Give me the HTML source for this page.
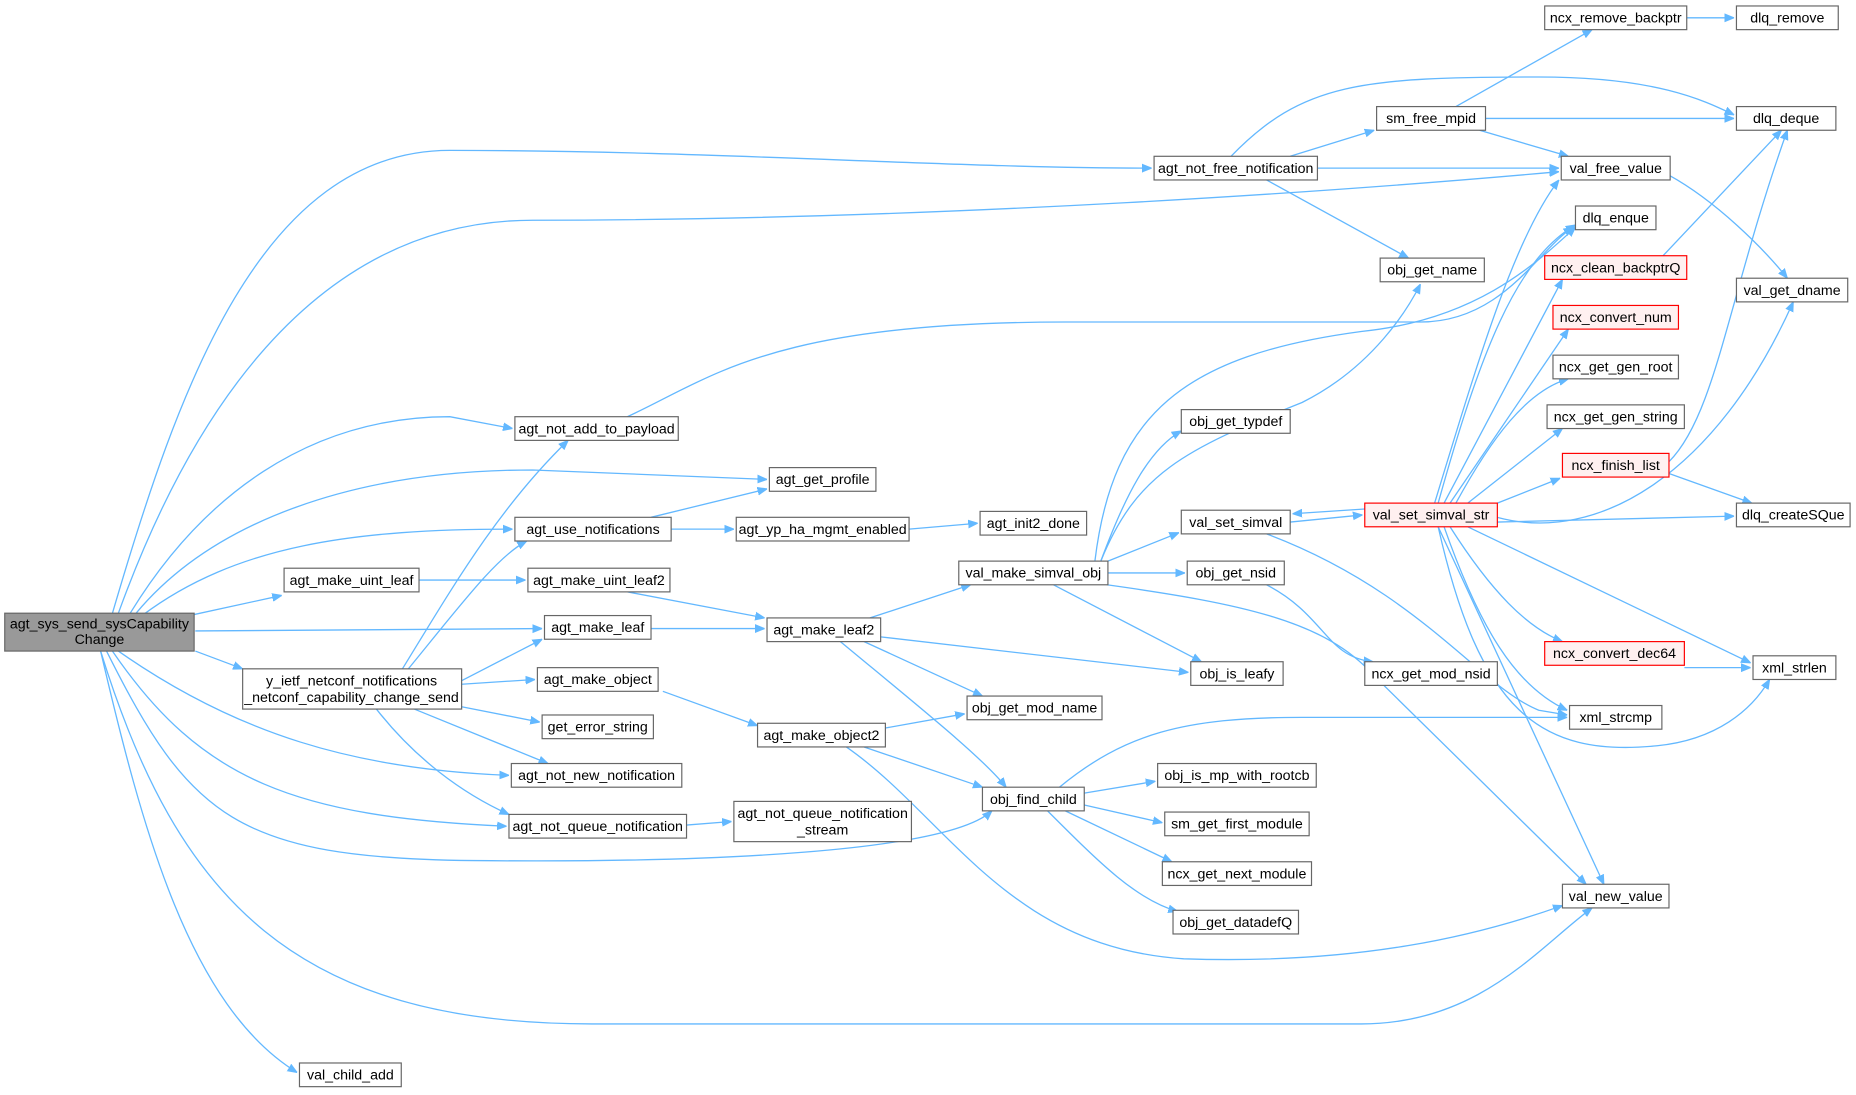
<!DOCTYPE html>
<html><head><meta charset="utf-8"><style>
html,body{margin:0;padding:0;background:#fff;width:1856px;height:1095px;overflow:hidden}
svg{display:block}
text{font-family:"Liberation Sans",Arial,sans-serif;font-size:12px;fill:#000}
.n{fill:#fff;stroke:#666;stroke-width:1}
.r{fill:#fff0f0;stroke:#f00;stroke-width:1}
.g{fill:#999;stroke:#666;stroke-width:1}
path{fill:none;stroke:#63b8ff;stroke-width:1.1}
</style></head><body>
<svg width="1856" height="1095" viewBox="0 0 1568 925" xmlns="http://www.w3.org/2000/svg">
<defs><marker id="a" viewBox="0 0 10 10" refX="10" refY="5" markerWidth="8" markerHeight="8" orient="auto" markerUnits="userSpaceOnUse"><path d="M0,1 L10,5 L0,9 z" style="fill:#63b8ff;stroke:#63b8ff"/></marker></defs>
<g marker-end="url(#a)">
<path d="M95,518 C150,330 220,127 380,127 C600,127 800,142 973,142"/>
<path d="M100,518 C150,380 250,186 450,186 C800,186 1150,160 1317,145"/>
<path d="M110,518 C170,420 260,352 380,352 L433,362"/>
<path d="M115,518 C180,440 300,397 450,397 L648,405"/>
<path d="M120,520 C200,460 300,447 433,447"/>
<path d="M160,520 L238,503"/>
<path d="M165,533 L458,531"/>
<path d="M165,550 L205,565"/>
<path d="M100,550 C200,620 300,650 430,655"/>
<path d="M95,550 C170,660 250,690 428,698"/>
<path d="M90,550 C160,690 200,725 400,727 C600,729 800,720 838,685"/>
<path d="M85,550 C150,760 250,865 500,865 L1150,865 C1250,865 1300,800 1345,767"/>
<path d="M85,550 C120,700 160,850 251,906"/>
<path d="M530,352 C600,320 650,272 900,272 L1200,272 C1270,272 1300,210 1329,192"/>
<path d="M550,437 L648,413"/>
<path d="M567,447 L620,447"/>
<path d="M768,447 L826,442"/>
<path d="M354,490 L444,490"/>
<path d="M530,500 L646,522"/>
<path d="M550,531 L646,531"/>
<path d="M340,565 C380,500 420,430 480,372"/>
<path d="M345,565 C390,510 420,470 445,457"/>
<path d="M390,575 L458,540"/>
<path d="M390,578 L452,574"/>
<path d="M390,597 L456,610"/>
<path d="M350,599 L463,645"/>
<path d="M318,599 C350,640 390,670 430,688"/>
<path d="M560,584 L640,613"/>
<path d="M580,697 L618,694"/>
<path d="M735,522 L820,494"/>
<path d="M744,538 L1004,568"/>
<path d="M730,542 L830,588"/>
<path d="M710,542 C780,600 830,640 850,665"/>
<path d="M748,615 L815,603"/>
<path d="M730,631 L830,665"/>
<path d="M715,631 C800,690 850,800 1000,810 C1150,815 1250,790 1320,765"/>
<path d="M930,474 C960,400 1000,380 1100,340 C1160,310 1190,260 1200,240"/>
<path d="M925,474 C940,350 1000,300 1150,280 C1250,270 1300,220 1331,192"/>
<path d="M930,474 C950,420 970,380 998,364"/>
<path d="M936,474 L996,450"/>
<path d="M936,484 L1001,484"/>
<path d="M890,494 L1015,559"/>
<path d="M935,494 C1050,510 1120,525 1160,570 L1340,747"/>
<path d="M1090,441 L1151,435"/>
<path d="M1153,430 L1092,434"/>
<path d="M1070,451 C1200,500 1250,580 1300,600 L1324,604"/>
<path d="M1070,494 C1120,520 1120,555 1160,559"/>
<path d="M895,665 C950,620 1000,606 1100,606 L1324,606"/>
<path d="M916,670 L976,660"/>
<path d="M916,680 L982,695"/>
<path d="M900,685 L990,728"/>
<path d="M885,685 C930,730 960,760 995,770"/>
<path d="M1040,132 C1100,70 1150,65 1300,65 C1400,65 1440,85 1465,97"/>
<path d="M1090,132 L1161,110"/>
<path d="M1113,142 L1317,142"/>
<path d="M1070,152 L1190,218"/>
<path d="M1230,90 L1345,25"/>
<path d="M1255,100 L1465,100"/>
<path d="M1250,110 L1325,132"/>
<path d="M1425,15 L1465,15"/>
<path d="M1410,148 C1450,170 1490,210 1510,235"/>
<path d="M1405,216 L1505,110"/>
<path d="M1410,390 C1450,350 1460,250 1510,110"/>
<path d="M1410,400 L1480,425"/>
<path d="M1423,564 L1479,564"/>
<path d="M1212,425 C1250,300 1280,200 1317,152"/>
<path d="M1215,425 C1250,300 1280,220 1331,190"/>
<path d="M1220,425 L1320,236"/>
<path d="M1225,425 L1325,278"/>
<path d="M1230,425 C1260,370 1290,330 1325,320"/>
<path d="M1240,425 L1320,362"/>
<path d="M1265,425 L1318,404"/>
<path d="M1265,437 C1350,460 1450,400 1515,255"/>
<path d="M1265,441 L1465,436"/>
<path d="M1240,445 L1479,560"/>
<path d="M1225,445 C1260,500 1290,530 1320,542"/>
<path d="M1220,445 C1250,530 1280,580 1324,600"/>
<path d="M1215,445 L1355,747"/>
<path d="M1215,445 C1250,600 1300,640 1400,630 C1450,625 1480,600 1495,574"/>
</g>
<rect class="g" x="4" y="518" width="160" height="32"/><text x="84" y="531" text-anchor="middle">agt_sys_send_sysCapability</text><text x="84" y="544" text-anchor="middle">Change</text>
<rect class="n" x="205" y="565" width="185" height="34"/><text x="297" y="579" text-anchor="middle">y_ietf_netconf_notifications</text><text x="297" y="593" text-anchor="middle">_netconf_capability_change_send</text>
<rect class="n" x="620" y="677" width="150" height="34"/><text x="695" y="691" text-anchor="middle">agt_not_queue_notification</text><text x="695" y="705" text-anchor="middle">_stream</text>
<g>
<rect class="n" x="1305" y="5" width="120" height="20"/><text x="1365" y="19" text-anchor="middle">ncx_remove_backptr</text>
<rect class="n" x="1467" y="5" width="86" height="20"/><text x="1510" y="19" text-anchor="middle">dlq_remove</text>
<rect class="n" x="1467" y="90" width="84" height="20"/><text x="1509" y="104" text-anchor="middle">dlq_deque</text>
<rect class="n" x="1163" y="90" width="92" height="20"/><text x="1209" y="104" text-anchor="middle">sm_free_mpid</text>
<rect class="n" x="975" y="132" width="138" height="20"/><text x="1044" y="146" text-anchor="middle">agt_not_free_notification</text>
<rect class="n" x="1319" y="132" width="92" height="20"/><text x="1365" y="146" text-anchor="middle">val_free_value</text>
<rect class="n" x="1331" y="174" width="68" height="20"/><text x="1365" y="188" text-anchor="middle">dlq_enque</text>
<rect class="n" x="1166" y="218" width="88" height="20"/><text x="1210" y="232" text-anchor="middle">obj_get_name</text>
<rect class="r" x="1305" y="216" width="120" height="20"/><text x="1365" y="230" text-anchor="middle">ncx_clean_backptrQ</text>
<rect class="n" x="1467" y="235" width="94" height="20"/><text x="1514" y="249" text-anchor="middle">val_get_dname</text>
<rect class="r" x="1312" y="258" width="106" height="20"/><text x="1365" y="272" text-anchor="middle">ncx_convert_num</text>
<rect class="n" x="1312" y="300" width="106" height="20"/><text x="1365" y="314" text-anchor="middle">ncx_get_gen_root</text>
<rect class="n" x="998" y="346" width="92" height="20"/><text x="1044" y="360" text-anchor="middle">obj_get_typdef</text>
<rect class="n" x="1307" y="342" width="116" height="20"/><text x="1365" y="356" text-anchor="middle">ncx_get_gen_string</text>
<rect class="n" x="435" y="352" width="138" height="20"/><text x="504" y="366" text-anchor="middle">agt_not_add_to_payload</text>
<rect class="r" x="1320" y="383" width="90" height="20"/><text x="1365" y="397" text-anchor="middle">ncx_finish_list</text>
<rect class="n" x="650" y="395" width="90" height="20"/><text x="695" y="409" text-anchor="middle">agt_get_profile</text>
<rect class="r" x="1153" y="425" width="112" height="20"/><text x="1209" y="439" text-anchor="middle">val_set_simval_str</text>
<rect class="n" x="1467" y="425" width="96" height="20"/><text x="1515" y="439" text-anchor="middle">dlq_createSQue</text>
<rect class="n" x="998" y="431" width="92" height="20"/><text x="1044" y="445" text-anchor="middle">val_set_simval</text>
<rect class="n" x="828" y="432" width="90" height="20"/><text x="873" y="446" text-anchor="middle">agt_init2_done</text>
<rect class="n" x="435" y="437" width="132" height="20"/><text x="501" y="451" text-anchor="middle">agt_use_notifications</text>
<rect class="n" x="622" y="437" width="146" height="20"/><text x="695" y="451" text-anchor="middle">agt_yp_ha_mgmt_enabled</text>
<rect class="n" x="810" y="474" width="126" height="20"/><text x="873" y="488" text-anchor="middle">val_make_simval_obj</text>
<rect class="n" x="1003" y="474" width="82" height="20"/><text x="1044" y="488" text-anchor="middle">obj_get_nsid</text>
<rect class="n" x="240" y="480" width="114" height="20"/><text x="297" y="494" text-anchor="middle">agt_make_uint_leaf</text>
<rect class="n" x="446" y="480" width="120" height="20"/><text x="506" y="494" text-anchor="middle">agt_make_uint_leaf2</text>
<rect class="n" x="648" y="522" width="96" height="20"/><text x="696" y="536" text-anchor="middle">agt_make_leaf2</text>
<rect class="n" x="460" y="520" width="90" height="20"/><text x="505" y="534" text-anchor="middle">agt_make_leaf</text>
<rect class="n" x="1153" y="559" width="112" height="20"/><text x="1209" y="573" text-anchor="middle">ncx_get_mod_nsid</text>
<rect class="n" x="1006" y="559" width="78" height="20"/><text x="1045" y="573" text-anchor="middle">obj_is_leafy</text>
<rect class="n" x="1481" y="554" width="70" height="20"/><text x="1516" y="568" text-anchor="middle">xml_strlen</text>
<rect class="r" x="1305" y="542" width="118" height="20"/><text x="1364" y="556" text-anchor="middle">ncx_convert_dec64</text>
<rect class="n" x="454" y="564" width="102" height="20"/><text x="505" y="578" text-anchor="middle">agt_make_object</text>
<rect class="n" x="817" y="588" width="114" height="20"/><text x="874" y="602" text-anchor="middle">obj_get_mod_name</text>
<rect class="n" x="458" y="604" width="94" height="20"/><text x="505" y="618" text-anchor="middle">get_error_string</text>
<rect class="n" x="640" y="611" width="108" height="20"/><text x="694" y="625" text-anchor="middle">agt_make_object2</text>
<rect class="n" x="1326" y="596" width="78" height="20"/><text x="1365" y="610" text-anchor="middle">xml_strcmp</text>
<rect class="n" x="432" y="645" width="144" height="20"/><text x="504" y="659" text-anchor="middle">agt_not_new_notification</text>
<rect class="n" x="978" y="645" width="134" height="20"/><text x="1045" y="659" text-anchor="middle">obj_is_mp_with_rootcb</text>
<rect class="n" x="830" y="665" width="86" height="20"/><text x="873" y="679" text-anchor="middle">obj_find_child</text>
<rect class="n" x="430" y="688" width="150" height="20"/><text x="505" y="702" text-anchor="middle">agt_not_queue_notification</text>
<rect class="n" x="984" y="686" width="122" height="20"/><text x="1045" y="700" text-anchor="middle">sm_get_first_module</text>
<rect class="n" x="982" y="728" width="126" height="20"/><text x="1045" y="742" text-anchor="middle">ncx_get_next_module</text>
<rect class="n" x="1320" y="747" width="90" height="20"/><text x="1365" y="761" text-anchor="middle">val_new_value</text>
<rect class="n" x="991" y="769" width="106" height="20"/><text x="1044" y="783" text-anchor="middle">obj_get_datadefQ</text>
<rect class="n" x="253" y="898" width="86" height="20"/><text x="296" y="912" text-anchor="middle">val_child_add</text>
</g>
</svg>
</body></html>
